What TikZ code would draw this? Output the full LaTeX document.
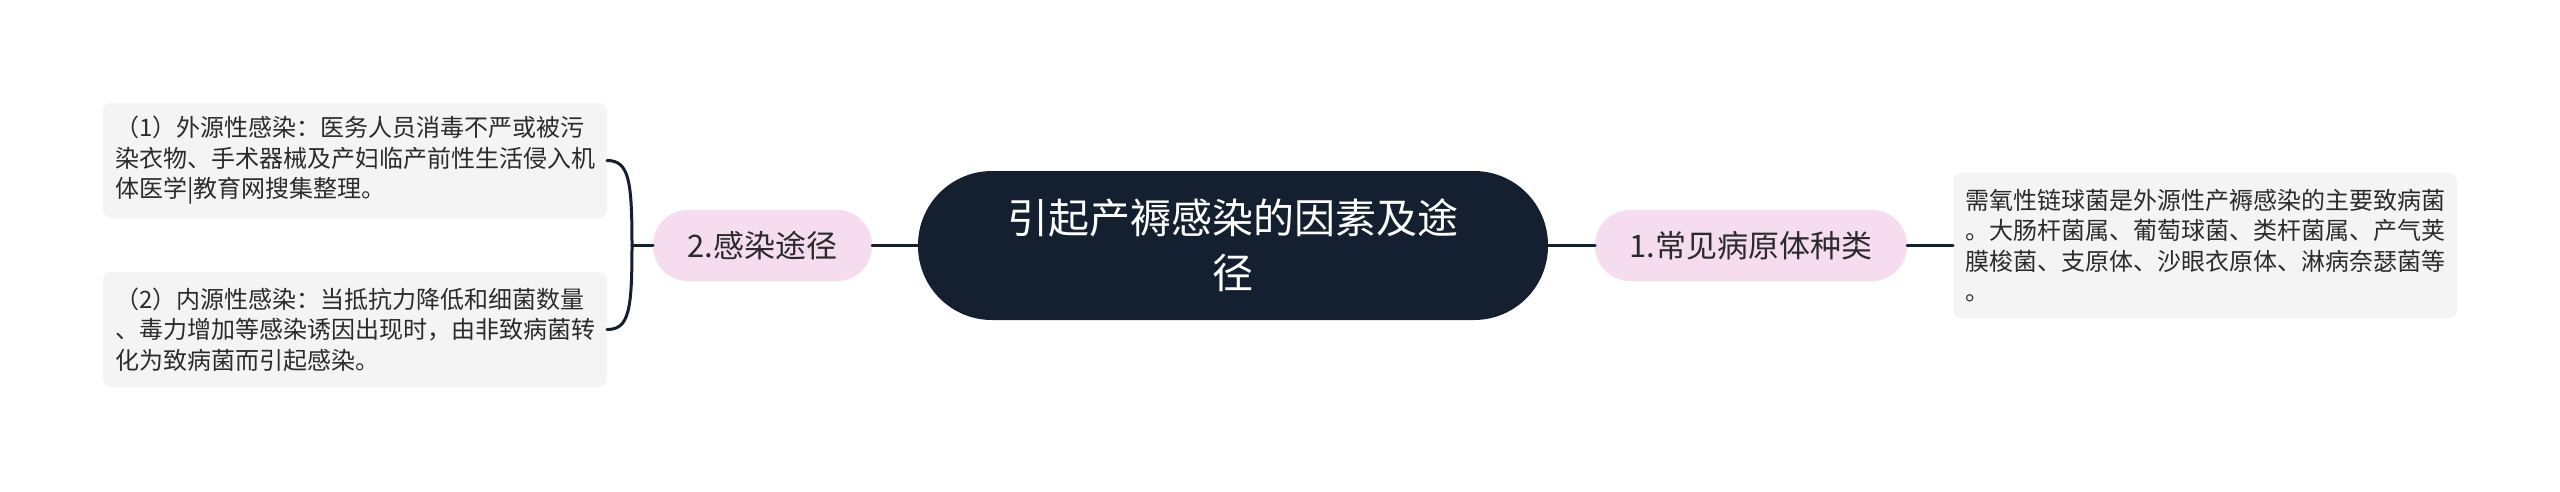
\documentclass[tikz,border=0pt]{standalone}
\usepackage{fontspec}
\setmainfont{Noto Sans CJK SC}
\definecolor{navy}{HTML}{14202F}
\definecolor{pinkf}{HTML}{F5DCEF}
\definecolor{grayf}{HTML}{F4F4F4}
\definecolor{txt}{HTML}{2B2B2B}
\begin{document}
\begin{tikzpicture}[x=1pt,y=-1pt,
  every node/.style={inner sep=0pt, outer sep=0pt},
  topic/.style={fill=navy, text=white, rounded corners=74pt, minimum width=630pt, minimum height=149pt, align=center, font=\fontsize{41}{55}\selectfont},
  branch/.style={fill=pinkf, text=txt, rounded corners=35pt, minimum width=#1, minimum height=71pt, font=\fontsize{31}{38}\selectfont},
  leaf/.style={fill=grayf, text=txt, rounded corners=8pt, text width=480pt, inner xsep=12pt, align=left, minimum height=#1, font=\fontsize{24}{30.5}\selectfont},
  conn/.style={draw=navy, line width=3pt, line cap=round}]
\useasboundingbox[fill=white] (0,0) rectangle (2560,491);

\node[topic] (topic) at (1233,245.5) {引起产褥感染的因素及途\\径};
\node[branch=219pt] (b2) at (762.5,245.5) {2.感染途径};
\node[branch=312pt] (b1) at (1751,245.5) {1.常见病原体种类};

\node[leaf=115pt] (l1) at (355,160.5) {（1）外源性感染：医务人员消毒不严或被污\\染衣物、手术器械及产妇临产前性生活侵入机\\体医学|教育网搜集整理。};
\node[leaf=115pt] (l2) at (355,329.5) {（2）内源性感染：当抵抗力降低和细菌数量\\、毒力增加等感染诱因出现时，由非致病菌转\\化为致病菌而引起感染。};
\node[leaf=145pt] (r1) at (2205,245.5) {需氧性链球菌是外源性产褥感染的主要致病菌\\。大肠杆菌属、葡萄球菌、类杆菌属、产气荚\\膜梭菌、支原体、沙眼衣原体、淋病奈瑟菌等\\。};

\coordinate (j) at (632,245.5);

\draw[conn] (topic.west) -- (b2.east);
\draw[conn] (topic.east) -- (b1.west);
\draw[conn] (b1.east) -- (r1.west);
\draw[conn] (b2.west) -- (j);
\draw[conn] (j) .. controls +(0,-65) and ([xshift=22pt]l1.east) .. (l1.east);
\draw[conn] (j) .. controls +(0,65) and ([xshift=22pt]l2.east) .. (l2.east);
\end{tikzpicture}
\end{document}
